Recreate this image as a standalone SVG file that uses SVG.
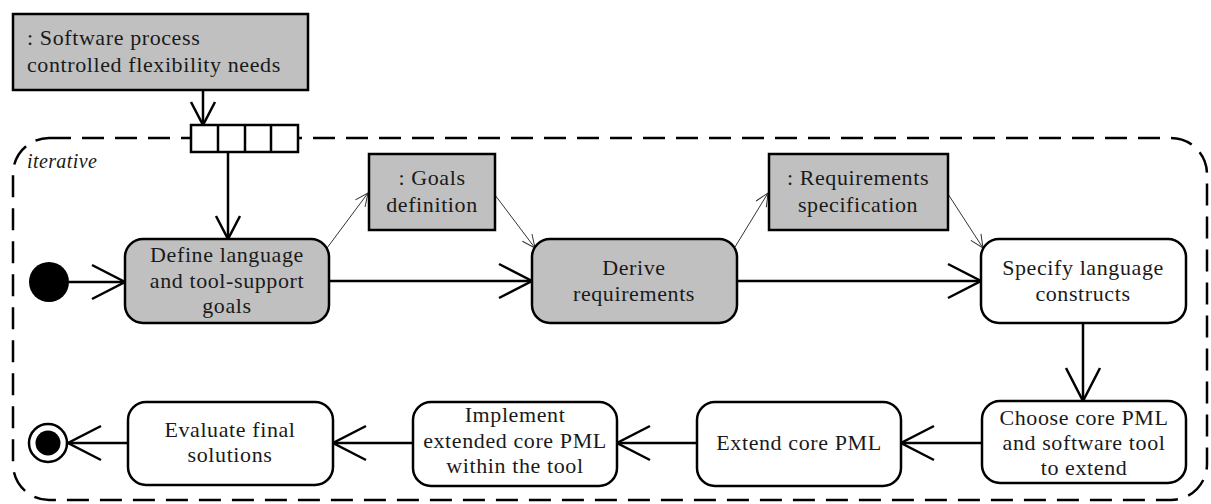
<svg xmlns="http://www.w3.org/2000/svg" width="1211" height="504" viewBox="0 0 1211 504">
<style>
.t{font-family:"Liberation Serif","Times New Roman",serif;font-size:22px;fill:#1a1a1a;letter-spacing:0.6px}
.c{text-anchor:middle}
.act{fill:#fff;stroke:#000;stroke-width:2.5}
.gact{fill:#c0c0c0;stroke:#000;stroke-width:2.5}
.obj{fill:#c0c0c0;stroke:#000;stroke-width:2.5}
.flow{fill:none;stroke:#000;stroke-width:2.5}
.oflow{fill:none;stroke:#333;stroke-width:1}
</style>
<defs>
<marker id="big" viewBox="-36 -20 40 40" markerWidth="40" markerHeight="40" refX="0" refY="0" orient="auto" markerUnits="userSpaceOnUse">
<path d="M-33,-17 L0,0 L-33,17" fill="none" stroke="#000" stroke-width="2.5"/>
</marker>
<marker id="mid" viewBox="-26 -15 30 30" markerWidth="30" markerHeight="30" refX="0" refY="0" orient="auto" markerUnits="userSpaceOnUse">
<path d="M-23,-12 L0,0 L-23,12" fill="none" stroke="#000" stroke-width="2.5"/>
</marker>
<marker id="thin" viewBox="-15 -8 17 16" markerWidth="17" markerHeight="16" refX="0" refY="0" orient="auto" markerUnits="userSpaceOnUse">
<path d="M-13,-6 L0,0 L-13,6" fill="none" stroke="#333" stroke-width="1"/>
</marker>
</defs>
<rect width="1211" height="504" fill="#fff"/>

<g id="region">
<rect x="13" y="138" width="1194" height="362" rx="36" ry="36" fill="none" stroke="#000" stroke-width="2.5" stroke-dasharray="22 11"/>
<text x="27" y="168" class="t" style="font-style:italic;font-size:20px;letter-spacing:0.4px">iterative</text>
</g>

<g id="connectors">
<line x1="203" y1="90" x2="203" y2="125" class="flow" marker-end="url(#mid)"/>
<line x1="228" y1="152" x2="228" y2="239" class="flow" marker-end="url(#mid)"/>
<line x1="69" y1="282" x2="125" y2="282" class="flow" marker-end="url(#big)"/>
<line x1="329" y1="281" x2="532" y2="281" class="flow" marker-end="url(#big)"/>
<line x1="737" y1="281" x2="981" y2="281" class="flow" marker-end="url(#big)"/>
<line x1="1083" y1="323" x2="1083" y2="401" class="flow" marker-end="url(#big)"/>
<line x1="982" y1="443" x2="901" y2="443" class="flow" marker-end="url(#big)"/>
<line x1="697" y1="443" x2="617" y2="443" class="flow" marker-end="url(#big)"/>
<line x1="413" y1="443" x2="333" y2="443" class="flow" marker-end="url(#big)"/>
<line x1="128" y1="443" x2="68" y2="443" class="flow" marker-end="url(#big)"/>
<line x1="327" y1="248" x2="368" y2="193" class="oflow" marker-end="url(#thin)"/>
<line x1="495" y1="195" x2="535" y2="248" class="oflow" marker-end="url(#thin)"/>
<line x1="735" y1="247" x2="768" y2="193" class="oflow" marker-end="url(#thin)"/>
<line x1="948" y1="194" x2="983" y2="248" class="oflow" marker-end="url(#thin)"/>
</g>

<g id="needs">
<rect x="13" y="14" width="295" height="76" class="obj"/>
<text x="27" y="45" class="t">: Software process</text>
<text x="27" y="72" class="t">controlled flexibility needs</text>
</g>

<g id="pins">
<rect x="191" y="125" width="107" height="27" fill="#fff" stroke="#000" stroke-width="2.5"/>
<line x1="218" y1="125" x2="218" y2="152" stroke="#000" stroke-width="2.5"/>
<line x1="245" y1="125" x2="245" y2="152" stroke="#000" stroke-width="2.5"/>
<line x1="271" y1="125" x2="271" y2="152" stroke="#000" stroke-width="2.5"/>
</g>

<g id="initial">
<circle cx="49" cy="282" r="20" fill="#000"/>
</g>

<g id="final">
<circle cx="48" cy="443" r="19" fill="#fff" stroke="#000" stroke-width="2.5"/>
<circle cx="48" cy="443" r="12.5" fill="#000"/>
</g>

<g id="define">
<rect x="125" y="239" width="204" height="84" rx="18" class="gact"/>
<text x="227" y="262" class="t c">Define language</text>
<text x="227" y="288" class="t c">and tool-support</text>
<text x="227" y="313" class="t c">goals</text>
</g>

<g id="goals">
<rect x="369" y="154" width="126" height="76" class="obj"/>
<text x="432" y="185" class="t c">: Goals</text>
<text x="432" y="212" class="t c">definition</text>
</g>

<g id="derive">
<rect x="532" y="239" width="205" height="84" rx="18" class="gact"/>
<text x="634" y="275" class="t c">Derive</text>
<text x="634" y="301" class="t c">requirements</text>
</g>

<g id="reqspec">
<rect x="769" y="154" width="179" height="76" class="obj"/>
<text x="858" y="185" class="t c">: Requirements</text>
<text x="858" y="212" class="t c">specification</text>
</g>

<g id="specify">
<rect x="981" y="239" width="205" height="84" rx="18" class="act"/>
<text x="1083" y="275" class="t c">Specify language</text>
<text x="1083" y="301" class="t c">constructs</text>
</g>

<g id="choose">
<rect x="982" y="401" width="204" height="82" rx="18" class="act"/>
<text x="1084" y="425" class="t c">Choose core PML</text>
<text x="1084" y="450" class="t c">and software tool</text>
<text x="1084" y="475" class="t c">to extend</text>
</g>

<g id="extend">
<rect x="697" y="402" width="204" height="84" rx="18" class="act"/>
<text x="799" y="450" class="t c">Extend core PML</text>
</g>

<g id="implement">
<rect x="413" y="402" width="204" height="84" rx="18" class="act"/>
<text x="515" y="422" class="t c">Implement</text>
<text x="515" y="448" class="t c">extended core PML</text>
<text x="515" y="473" class="t c">within the tool</text>
</g>

<g id="evaluate">
<rect x="128" y="402" width="205" height="83" rx="18" class="act"/>
<text x="230" y="437" class="t c">Evaluate final</text>
<text x="230" y="462" class="t c">solutions</text>
</g>
</svg>
